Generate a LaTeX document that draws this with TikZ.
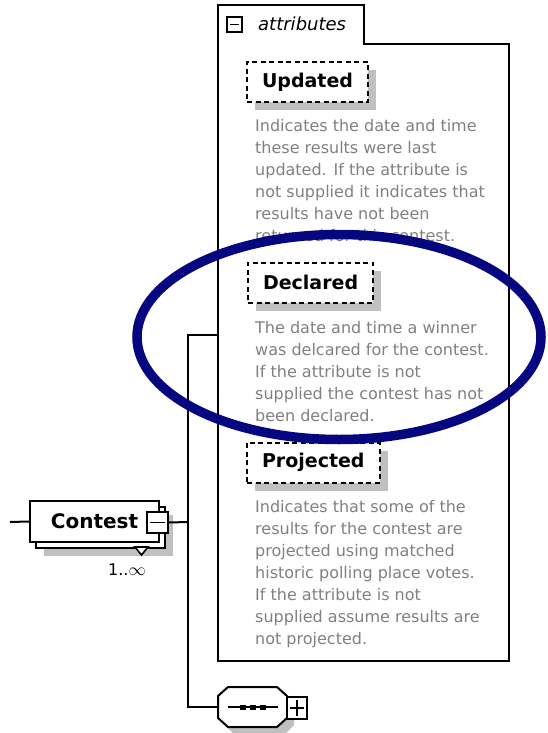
\documentclass[tikz,border=0pt]{standalone}
\usepackage{fontspec}
\setmainfont{DejaVu Sans}
\usetikzlibrary{shapes.geometric, shadows, calc}
\definecolor{markblue}{RGB}{6,6,128}
\definecolor{shadowgray}{RGB}{192,192,192}
\definecolor{docgray}{RGB}{128,128,128}

\begin{document}
\begin{tikzpicture}[
                    x=1pt, y=-1pt,
                    box/.style={rectangle, draw, line width=2pt, fill=white},
                    element/.style={box, minimum width=129pt, minimum height=41pt, font=\fontsize{20}{20}\selectfont\bfseries},
                    attr/.style={box, dash pattern=on 5pt off 3.5pt, anchor=west, inner xsep=15pt, minimum height=40pt, font=\fontsize{19}{19}\selectfont\bfseries, drop shadow={shadow xshift=8pt, shadow yshift=-8pt, fill=shadowgray, opacity=1}},
                    doc/.style={anchor=north west, inner sep=0pt, align=left, text=docgray, font=\fontsize{16}{22}\selectfont},
                    minusbox/.style={box, line width=1.6pt, inner sep=0pt, path picture={\draw[line width=1.6pt] ([xshift=3pt]path picture bounding box.west) -- ([xshift=-3pt]path picture bounding box.east);}},
                    plusbox/.style={minusbox, path picture={\draw[line width=1.6pt] ([xshift=3pt]path picture bounding box.west) -- ([xshift=-3pt]path picture bounding box.east); \draw[line width=1.6pt] ([yshift=-3pt]path picture bounding box.north) -- ([yshift=3pt]path picture bounding box.south);}},
                    line/.style={draw, line width=2pt}
                ]
                    \useasboundingbox (0,0) rectangle (547,733);

                    % attributes container
                    \draw [line width=2pt] (218,661) -- (218,5) -- (364,5) -- (364,44) -- (509,44) -- (509,661) -- cycle;
                    \coordinate (attrin) at (218,335);
                    \node [minusbox, minimum size=15pt] (attrminus) at (234.5,24.5) {};
                    \node [anchor=west, inner sep=0pt, font=\fontsize{18}{18}\selectfont\itshape] (attrlabel) at (258,24) {attributes};

                    \node [attr] (updated) at (246,82) {Updated};
                    \node [doc] (updateddoc) at (255,119.5) {Indicates the date and time\\these results were last\\updated. If the attribute is\\not supplied it indicates that\\results have not been\\returned for this contest.};

                    \node [attr] (declared) at (247,282.5) {Declared};
                    \node [doc] (declareddoc) at (255,321) {The date and time a winner\\was delcared for the contest.\\If the attribute is not\\supplied the contest has not\\been declared.};

                    \node [attr] (projected) at (246,462.5) {Projected};
                    \node [doc] (projecteddoc) at (255,500) {Indicates that some of the\\results for the contest are\\projected using matched\\historic polling place votes.\\If the attribute is not\\supplied assume results are\\not projected.};

                    % Contest element
                    \node [element, drop shadow={shadow xshift=8pt, shadow yshift=-8pt, fill=shadowgray, opacity=1}] (contestback) at (100.5,527.5) {};
                    \node [element] (contest) at (94.5,521.5) {Contest};
                    \node [minusbox, minimum size=21pt] (cminus) at (157.5,522.5) {};
                    \draw [line width=1.6pt, fill=white] (135,547) -- (148,547) -- (141.5,555) -- cycle;
                    \node [font=\fontsize{16}{16}\selectfont, inner sep=0pt] (mult) at (127,570) {1..\(\infty\)};

                    % sequence
                    \node [rectangle, inner sep=0pt, minimum width=69pt, minimum height=40pt] (seq) at (252.5,707) {};
                    \begin{scope}[shift={(seq.center)}]
                        \fill [shadowgray] (-27.5,-4) -- (-18.5,-13) -- (32.5,-13) -- (41.5,-4) -- (41.5,18) -- (32.5,27) -- (-18.5,27) -- (-27.5,18) -- cycle;
                        \draw [line width=2pt, fill=white] (-34.5,-11) -- (-24.5,-20) -- (24.5,-20) -- (34.5,-11) -- (34.5,11) -- (24.5,20) -- (-24.5,20) -- (-34.5,11) -- cycle;
                        \draw [line width=1.6pt] (-25,0) -- (25,0);
                        \foreach \dx in {-10,0,10}
                            \fill (\dx-3,-2.5) rectangle (\dx+3,2.5);
                    \end{scope}
                    \node [plusbox, minimum width=20pt, minimum height=22pt] (seqplus) at (297,708) {};

                    % Edges from Contest
                    \coordinate (cin) at (10,522);
                    \coordinate (junc) at (188,522);
                    \path [line] (cin) -- (contest.west);
                    \path [line] (cminus.east) -- (junc);
                    \path [line] (junc) |- (attrin);
                    \path [line] (junc) |- (seq.west);

                    % highlight
                    \node [ellipse, draw=markblue, line width=9.5pt, inner sep=0pt, minimum width=404pt, minimum height=205pt] (mark) at (339,337) {};
                \end{tikzpicture}
\end{document}
